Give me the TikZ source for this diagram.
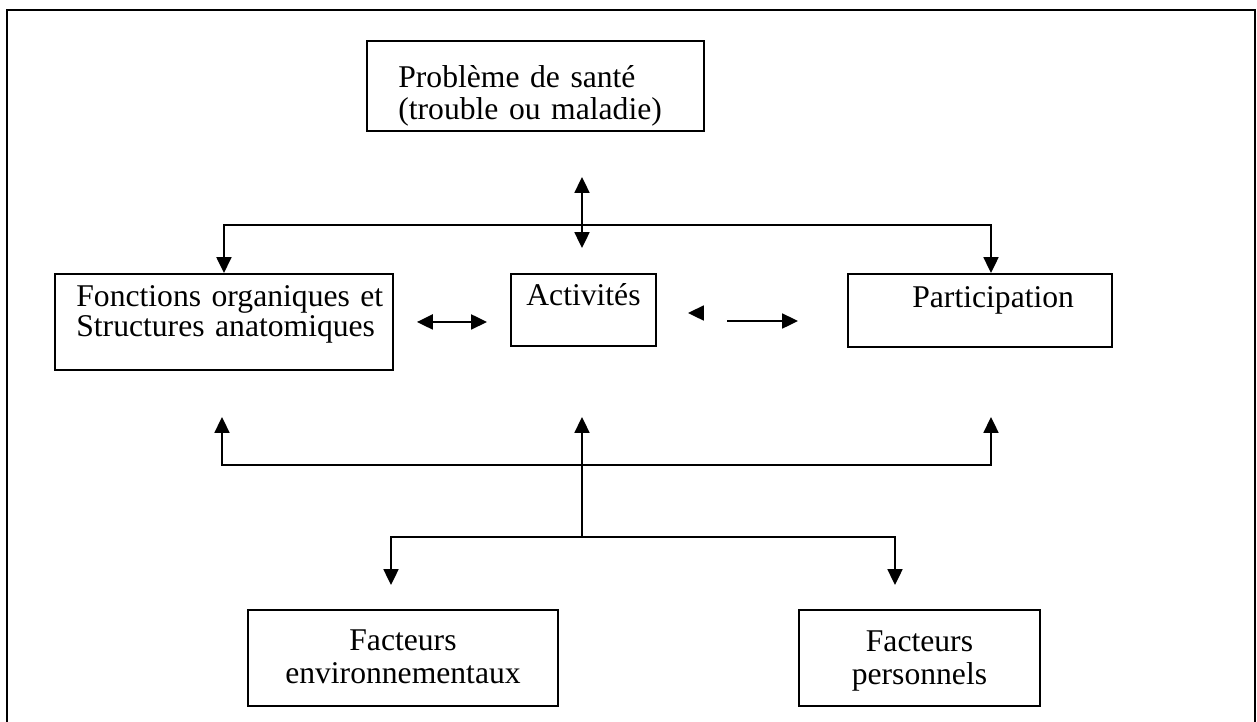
\documentclass[tikz,border=0pt]{standalone}
\usepackage{fontspec}
\setmainfont{Liberation Serif}
\usetikzlibrary{positioning,arrows.meta,calc}

\begin{document}
\begin{tikzpicture}[every node/.style={font=\fontsize{18}{17.5}\selectfont},
    boite/.style={draw=black, line width=1.1pt, anchor=north west, inner sep=0pt},
    texte/.style={inner sep=0pt, text width=6.4cm},
    trait/.style={line width=1.1pt},
    fleche/.style={line width=1.1pt, -{Triangle[length=9pt,width=8.5pt]}},
    deuxsens/.style={line width=1.1pt, {Triangle[length=9pt,width=8.5pt]}-{Triangle[length=9pt,width=8.5pt]}}]
    \useasboundingbox (0,0) rectangle (25.14,-14.42);

    % Outer frame
    \draw[line width=1.3pt] (0.14,-0.2) rectangle (25.1,-14.9);

    % Health problem
    \node[boite, minimum width=6.74cm, minimum height=1.8cm] (sante) at (7.32,-0.8) {};
    \node[texte, align=left, anchor=base west, font=\fontsize{18}{18.5}\selectfont] (sante-t) at ($(sante.north west)+(0.64,-0.94)$) {Problème de santé\\(trouble ou maladie)};

    % Middle row
    \node[boite, minimum width=6.76cm, minimum height=1.92cm] (fonct) at (1.08,-5.46) {};
    \node[texte, align=left, anchor=base west] (fonct-t) at ($(fonct.north west)+(0.44,-0.66)$) {Fonctions organiques et\\Structures anatomiques};

    \node[boite, minimum width=2.9cm, minimum height=1.44cm] (activ) at (10.2,-5.46) {};
    \node[texte, text width=2.6cm, align=center, anchor=base] (activ-t) at ($(activ.north)+(0,-0.64)$) {Activités};

    \node[boite, minimum width=5.28cm, minimum height=1.46cm] (partic) at (16.94,-5.46) {};
    \node[texte, align=left, anchor=base west] (partic-t) at ($(partic.north west)+(1.3,-0.68)$) {Participation};

    % Contextual factors
    \node[boite, minimum width=6.2cm, minimum height=1.92cm] (env) at (4.94,-12.18) {};
    \node[texte, text width=6cm, align=center, anchor=base, font=\fontsize{18}{18.8}\selectfont] (env-t) at ($(env.north)+(0,-0.82)$) {Facteurs\\environnementaux};

    \node[boite, minimum width=4.82cm, minimum height=1.92cm] (perso) at (15.96,-12.18) {};
    \node[texte, text width=4.6cm, align=center, anchor=base, font=\fontsize{18}{18.8}\selectfont] (perso-t) at ($(perso.north)+(0,-0.84)$) {Facteurs\\personnels};

    % Top links
    \coordinate (cime-h) at (11.64,-3.54);
    \coordinate (cime-b) at (11.64,-4.96);
    \coordinate (haut-g) at (fonct.north |- 0,-4.5);
    \coordinate (haut-d) at (19.82,-4.5);
    \draw[deuxsens] (cime-b) -- (cime-h);
    \draw[deuxsens] (fonct.north) -- (haut-g) -- (haut-d) -- (haut-d |- partic.north);

    % Middle links
    \coordinate (pointe-g) at (13.76,-6.26);
    \coordinate (pointe-d) at (14.06,-6.26);
    \coordinate (vers-d) at (14.54,-6.42);
    \coordinate (vers-f) at (15.96,-6.42);
    \draw[deuxsens] ($(fonct.east)+(0.46,0)$) -- ($(fonct.east -| activ.west)+(-0.46,0)$);
    \draw[fleche] (pointe-d) -- (pointe-g);
    \draw[fleche] (vers-d) -- (vers-f);

    % Bottom links
    \coordinate (bas-g) at (4.44,-9.3);
    \coordinate (bas-d) at (19.82,-9.3);
    \coordinate (tronc-h) at (11.64,-8.34);
    \coordinate (tronc-b) at (11.64,-10.74);
    \coordinate (pied-g) at (7.82,-10.74);
    \coordinate (pied-d) at (17.9,-10.74);
    \draw[deuxsens] (bas-g |- tronc-h) -- (bas-g) -- (bas-d) -- (bas-d |- tronc-h);
    \draw[fleche] (tronc-b) -- (tronc-h);
    \draw[deuxsens] (pied-g |- 0,-11.7) -- (pied-g) -- (pied-d) -- (pied-d |- 0,-11.7);
\end{tikzpicture}
\end{document}
